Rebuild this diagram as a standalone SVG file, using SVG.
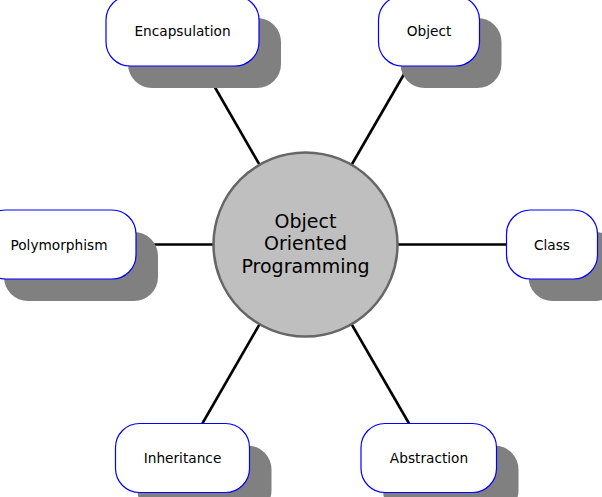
<svg xmlns="http://www.w3.org/2000/svg" width="602" height="497" viewBox="0 0 602 497">
<style>
.shadow{fill:#808080;stroke:none}
.box{fill:#ffffff;stroke:#0000ff;stroke-width:1.2}
.lbl{font-family:"DejaVu Sans",sans-serif;font-size:13.7px;fill:#000;text-anchor:middle}
.edge{stroke:#000;stroke-width:2.6;fill:none}
.ctr{font-family:"DejaVu Sans",sans-serif;font-size:19px;fill:#000;text-anchor:middle}
</style>
<rect width="602" height="497" fill="#ffffff"/>
<g id="connectors">
<line class="edge" x1="305.5" y1="244.5" x2="182.5" y2="31"/>
<line class="edge" x1="305.5" y1="244.5" x2="429" y2="31"/>
<line class="edge" x1="305.5" y1="244.5" x2="58" y2="244.5"/>
<line class="edge" x1="305.5" y1="244.5" x2="552" y2="244.5"/>
<line class="edge" x1="305.5" y1="244.5" x2="182.5" y2="458"/>
<line class="edge" x1="305.5" y1="244.5" x2="429" y2="458"/>
</g>
<g id="center">
<circle cx="305.5" cy="244.5" r="92" fill="#bfbfbf" stroke="#666666" stroke-width="2.5"/>
<text class="ctr" x="305.5" y="227.5">Object</text>
<text class="ctr" x="305.5" y="250">Oriented</text>
<text class="ctr" x="305.5" y="272.5">Programming</text>
</g>
<g id="encapsulation">
<rect class="shadow" x="128" y="18" width="153" height="70" rx="24"/>
<rect class="box" x="106" y="-4" width="153" height="70" rx="24"/>
<text class="lbl" x="182.5" y="35.5">Encapsulation</text>
</g>
<g id="object">
<rect class="shadow" x="400.5" y="18" width="101" height="70" rx="24"/>
<rect class="box" x="378.5" y="-4" width="101" height="70" rx="24"/>
<text class="lbl" x="429" y="35.5">Object</text>
</g>
<g id="polymorphism">
<rect class="shadow" x="4" y="232" width="154" height="69" rx="24"/>
<rect class="box" x="-18" y="210" width="154" height="69" rx="24"/>
<text class="lbl" x="59" y="249.5">Polymorphism</text>
</g>
<g id="class">
<rect class="shadow" x="528.5" y="232" width="91" height="69" rx="24"/>
<rect class="box" x="506.5" y="210" width="91" height="69" rx="24"/>
<text class="lbl" x="552" y="249.5">Class</text>
</g>
<g id="inheritance">
<rect class="shadow" x="137.5" y="445.5" width="134" height="69" rx="24"/>
<rect class="box" x="115.5" y="423.5" width="134" height="69" rx="24"/>
<text class="lbl" x="182.5" y="463">Inheritance</text>
</g>
<g id="abstraction">
<rect class="shadow" x="383" y="445.5" width="135.5" height="69" rx="24"/>
<rect class="box" x="361" y="423.5" width="135.5" height="69" rx="24"/>
<text class="lbl" x="429" y="463">Abstraction</text>
</g>
</svg>
